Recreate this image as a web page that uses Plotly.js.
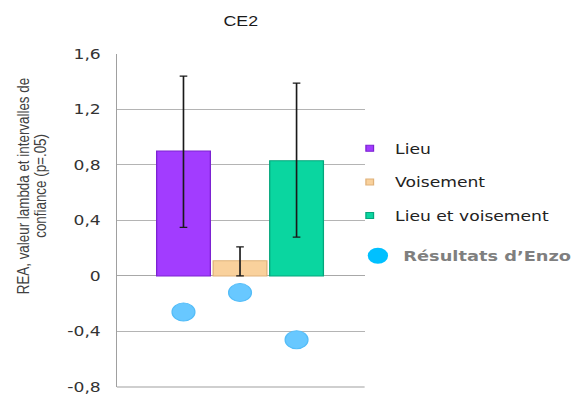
<!DOCTYPE html>
<html>
<head>
<meta charset="utf-8">
<script src="https://cdn.plot.ly/plotly-3.0.1.min.js"></script>
<style>
  html, body { margin: 0; padding: 0; background: #fff; overflow: hidden; }
  /* chart is laid out narrow, then widened to the page width */
  #chart { width: 451px; height: 394px; transform: scaleX(1.2705); transform-origin: 0 0; }
</style>
</head>
<body>
<div id="chart"></div>
<script>
// CE2 — REA lambda values with 95% confidence intervals, and Enzo's results
const categories = ['Lieu', 'Voisement', 'Lieu et voisement'];
const lambdaValues = [0.90, 0.11, 0.83];
const ciHigh = [1.44, 0.21, 1.39];
const ciLow = [0.35, 0.00, 0.28];
const enzoValues = [-0.26, -0.12, -0.46];
const enzoLabel = 'Résultats d’Enzo';
const yTitleLines = ['REA, valeur lambda et intervalles de', 'confiance (p=.05)'];

const barColors = ['#A23CFF', '#F9D19C', '#0AD6A0'];
const barEdges = ['#7C22D2', '#E0B27A', '#04A67C'];

const yTickVals = [-0.8, -0.4, 0, 0.4, 0.8, 1.2, 1.6];
const yTickText = ['-0,8', '-0,4', '0', '0,4', '0,8', '1,2', '1,6'];

const errPlus = lambdaValues.map((v, i) => ciHigh[i] - v);
const errMinus = lambdaValues.map((v, i) => v - ciLow[i]);

const traces = [
  {
    type: 'bar',
    x: categories,
    y: lambdaValues,
    width: 0.95,
    showlegend: false,
    hoverinfo: 'x+y',
    marker: { color: barColors, line: { color: barEdges, width: 1 } },
    error_y: {
      type: 'data', symmetric: false,
      array: errPlus, arrayminus: errMinus,
      color: '#1a1a1a', thickness: 1.3, width: 3
    }
  },
  {
    type: 'scatter',
    mode: 'markers',
    x: categories,
    y: enzoValues,
    name: enzoLabel,
    showlegend: false,
    marker: { color: '#68C8FF', size: 18, line: { color: '#55BDF8', width: 1 } }
  }
];

// legend entries: small squares for the three series, a dot for Enzo
categories.forEach((c, i) => {
  traces.push({
    type: 'scatter', mode: 'markers', x: [null], y: [null],
    name: c, legendgroup: c, legend: 'legend',
    marker: { symbol: 'square', size: 6, color: barColors[i], line: { color: barEdges[i], width: 1 } }
  });
});
traces.push({
  type: 'scatter', mode: 'markers', x: [null], y: [null],
  name: enzoLabel, legend: 'legend2',
  marker: { color: '#00C0FF', size: 16 }
});

// rotated y-axis title, one annotation per line
const yTitleX = [-0.377, -0.308];
const yTitleAnnotations = yTitleLines.map((t, i) => ({
  text: t,
  textangle: -90,
  xref: 'paper', yref: 'paper', x: yTitleX[i], y: 0.604,
  xanchor: 'center', yanchor: 'middle',
  showarrow: false,
  font: { family: 'Liberation Sans, Arial', size: 13.4, color: '#404040' }
}));

const layout = {
  width: 451,
  height: 394,
  margin: { l: 92, r: 164, t: 54, b: 7, autoexpand: false },
  paper_bgcolor: '#ffffff',
  plot_bgcolor: '#ffffff',
  font: { family: 'DejaVu Sans', size: 13.5, color: '#222' },
  title: {
    text: 'CE2',
    font: { family: 'Liberation Sans, Arial', size: 14, color: '#1a1a1a' },
    xref: 'paper', x: 0.5, xanchor: 'center',
    yref: 'container', y: 0.9467, yanchor: 'middle'
  },
  xaxis: {
    type: 'category',
    range: [-1.178, 3.204],
    showticklabels: false,
    showgrid: false,
    zeroline: false,
    showline: false,
    ticks: '',
    automargin: false,
    fixedrange: true
  },
  yaxis: {
    range: [-0.8005, 1.6],
    tickvals: yTickVals,
    ticktext: yTickText,
    tickfont: { family: 'DejaVu Sans', size: 13.5, color: '#333' },
    ticks: '',
    ticklabelstandoff: 9,
    ticklabeloverflow: 'allow',
    automargin: false,
    showgrid: true,
    gridcolor: '#B4B4B4',
    gridwidth: 1,
    zeroline: true,
    zerolinecolor: '#A8A8A8',
    zerolinewidth: 1,
    showline: true,
    linecolor: '#A0A0A0',
    linewidth: 1,
    fixedrange: true
  },
  shapes: [
    // bottom frame line at the lowest value
    { type: 'line', xref: 'paper', yref: 'paper', x0: 0, x1: 1, y0: 0, y1: 0,
      line: { color: '#A0A0A0', width: 1 } }
  ],
  annotations: yTitleAnnotations,
  legend: {
    x: 0.918, xanchor: 'left',
    y: 0.7625, yanchor: 'top',
    bgcolor: 'rgba(0,0,0,0)',
    tracegroupgap: 13,
    traceorder: 'grouped',
    font: { family: 'DejaVu Sans', size: 13.5, color: '#222' }
  },
  legend2: {
    x: 0.951, xanchor: 'left',
    y: 0.393, yanchor: 'middle',
    bgcolor: 'rgba(0,0,0,0)',
    font: { family: 'DejaVu Sans', size: 14.0, color: '#7F7F7F', weight: 'bold' }
  },
  barmode: 'overlay',
  showlegend: true
};

Plotly.newPlot('chart', traces, layout, { displayModeBar: false, staticPlot: true });
</script>
</body>
</html>
